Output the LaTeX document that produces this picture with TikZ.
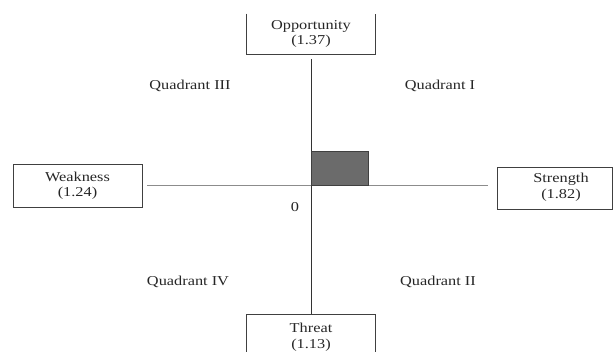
\documentclass[tikz,border=0pt]{standalone}
\usepackage{fontspec}
\setmainfont[FakeStretch=1.2]{Liberation Serif}
\begin{document}
\begin{tikzpicture}[x=1pt,y=-1pt,
  txt/.style={font=\fontsize{13.6}{15.5}\selectfont, text=black!85, align=center, inner sep=0pt},
  boxline/.style={draw=black!75, line width=0.9pt},
  frame/.style={minimum width=129, inner sep=0pt},
  axis/.style={line width=1pt}]
\useasboundingbox (0,0) rectangle (613,352);
\clip (0,0) rectangle (613,352);
% boxes
\node[frame, minimum height=40, anchor=south] (opp) at (311,54) {};
\node[txt] (opptxt) at (311,34) {Opportunity\\(1.37)};
\draw[boxline] (opp.north west) -- (opp.south west) -- (opp.south east) -- (opp.north east);
\node[frame, boxline, minimum height=48, anchor=north] (thr) at (311,314) {};
\node[txt] (thrtxt) at (311,337) {Threat\\(1.13)};
\node[frame, boxline, minimum height=43] (wk) at (77.5,185.5) {};
\node[txt] (wktxt) at (77.5,185.5) {Weakness\\(1.24)};
\node[frame, boxline, minimum width=115, minimum height=42] (str) at (554.5,188) {};
\node[txt] (strtxt) at (561,187) {Strength\\(1.82)};
% axes
\draw[axis, draw=black!45, shorten <=5pt, shorten >=9pt] (wk.east) -- (wk.east -| str.west);
\draw[axis, draw=black!80, shorten <=5pt] (opp.south) -- (thr.north);
% shaded rectangle
\node[draw=black!75, fill=black!58, line width=0.8pt, minimum width=57, minimum height=34, inner sep=0pt, anchor=south west] (sq) at (311,186) {};
% labels
\node[txt] (zero) at (295,207) {0};
\node[txt] (q3) at (190,86) {Quadrant III};
\node[txt] (q1) at (440,86) {Quadrant I};
\node[txt] (q4) at (188,282) {Quadrant IV};
\node[txt] (q2) at (438,282) {Quadrant II};
\end{tikzpicture}
\end{document}
